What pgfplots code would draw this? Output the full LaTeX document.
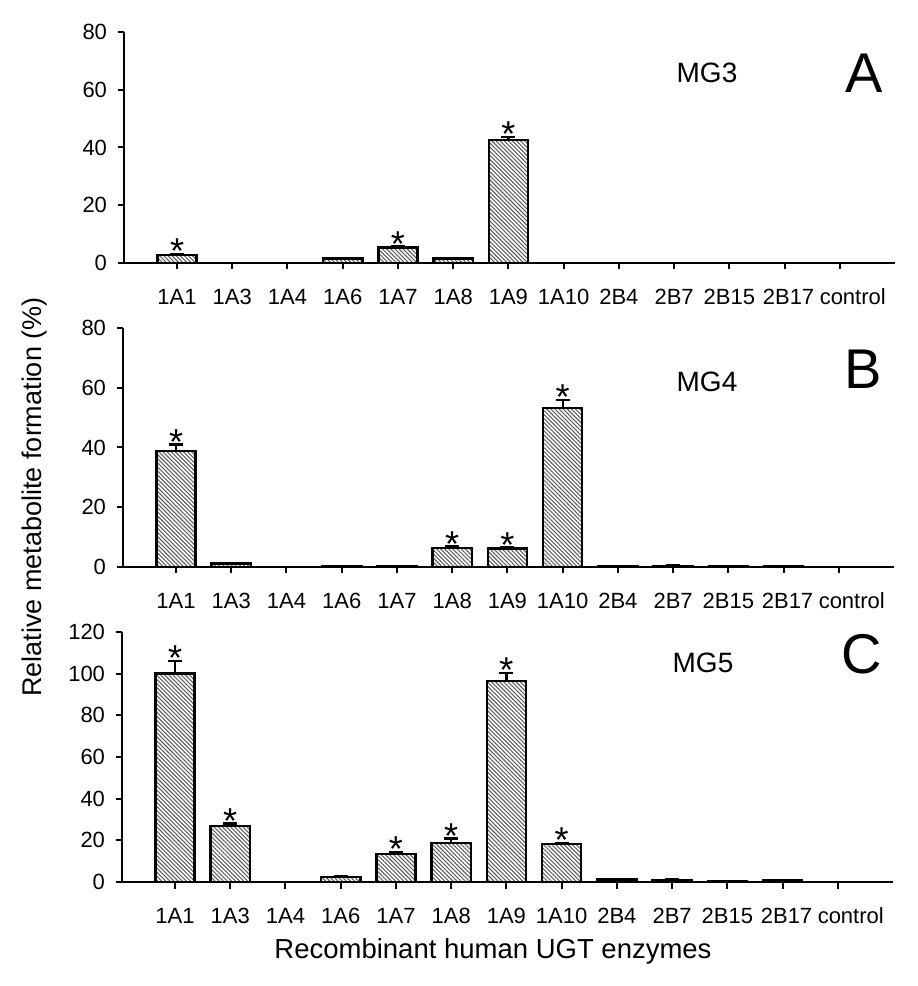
\documentclass[border=0pt]{standalone}
\usepackage{fontspec}
\setmainfont{Liberation Sans}
\usepackage{pgfplots}
\usepackage{pgfplotstable}
\pgfplotsset{compat=1.18}
\usetikzlibrary{patterns.meta}

% panel A (MG3)
\pgfplotstableread{
x val err
0 2.8 0.4
3 1.5 0.2
4 5.3 0.4
5 1.5 0.2
6 42.5 1.2
}\dataA
% panel B (MG4)
\pgfplotstableread{
x val err
0 38.8 2.2
1 1.2 0.2
3 0.3 0.1
4 0.3 0.1
5 6.3 0.6
6 6.2 0.4
7 53.2 2.8
8 0.2 0.1
9 0.4 0.1
10 0.3 0.1
11 0.3 0.1
}\dataB
% panel C (MG5)
\pgfplotstableread{
x val err
0 100.0 6.0
1 26.9 1.2
3 2.3 0.3
4 13.4 1.0
5 18.7 2.2
6 96.5 3.8
7 18.3 0.6
8 1.2 0.3
9 0.9 0.3
10 0.4 0.2
11 0.8 0.3
}\dataC

\tikzset{sig/.style={anchor=south, inner sep=0pt, yshift=-10bp, font=\fontsize{36bp}{40bp}\selectfont}}

\pgfplotsset{
  panel/.style={
    scale only axis, width=771bp,
    xmin=-0.96, xmax=13.0, ymin=0,
    axis x line*=bottom, axis y line*=left,
    axis line style={line width=2.6bp, black},
    xtick={0,...,12},
    xticklabels={1A1,1A3,1A4,1A6,1A7,1A8,1A9,1A10,2B4,2B7,2B15,\hspace*{8bp}2B17,\hspace*{26bp}control},
    tick align=outside, major tick length=6.5bp,
    tick style={line width=2bp, black},
    tick label style={font=\fontsize{22bp}{24bp}\selectfont},
    xticklabel style={anchor=base, yshift=-35bp},
    xticklabel shift=0bp, yticklabel shift=7bp,
    /pgf/number format/assume math mode=true,
    ybar, bar width=0.71,
    clip=false,
  },
  hatchbar/.style={
    draw=black, line width=2.4bp,
    pattern={Lines[angle=-45,distance=2.9bp,line width=1.1bp]},
    pattern color=black!62,
    error bars/.cd, y dir=plus, y explicit,
    error bar style={line width=2.2bp, black, solid},
    error mark options={rotate=90, mark size=7bp, line width=2.2bp, black, solid},
  },
}

\begin{document}
\begin{tikzpicture}
\useasboundingbox (0,0) rectangle (918bp,986bp);

% ---- Panel A ----
\begin{axis}[panel, at={(124bp,723bp)}, anchor=south west, height=231bp,
  ymax=80, ytick={0,20,...,80}]
  \addplot[hatchbar] table[x=x, y=val, y error=err] {\dataA};
  \node[sig] at (axis cs:0,3.2) {*};
  \node[sig] at (axis cs:4,5.7) {*};
  \node[sig] at (axis cs:6,43.7) {*};
\end{axis}

% ---- Panel B ----
\begin{axis}[panel, at={(123bp,419bp)}, anchor=south west, height=239bp,
  ymax=80, ytick={0,20,...,80}]
  \addplot[hatchbar] table[x=x, y=val, y error=err] {\dataB};
  \node[sig] at (axis cs:0,41.0) {*};
  \node[sig] at (axis cs:5,6.9) {*};
  \node[sig] at (axis cs:6,6.6) {*};
  \node[sig] at (axis cs:7,56.0) {*};
\end{axis}

% ---- Panel C ----
\begin{axis}[panel, at={(122bp,104bp)}, anchor=south west, height=250bp,
  ymax=120, ytick={0,20,...,120}]
  \addplot[hatchbar] table[x=x, y=val, y error=err] {\dataC};
  \node[sig] at (axis cs:0,106.0) {*};
  \node[sig] at (axis cs:1,28.1) {*};
  \node[sig] at (axis cs:4,14.4) {*};
  \node[sig] at (axis cs:5,20.9) {*};
  \node[sig] at (axis cs:6,100.3) {*};
  \node[sig] at (axis cs:7,18.9) {*};
\end{axis}

% panel annotations
\node[anchor=base, font=\fontsize{28bp}{32bp}\selectfont] at (707bp,903bp) {MG3};
\node[anchor=base, font=\fontsize{28bp}{32bp}\selectfont] at (707bp,594bp) {MG4};
\node[anchor=base, font=\fontsize{28bp}{32bp}\selectfont] at (703bp,313bp) {MG5};
\node[anchor=base, font=\fontsize{56bp}{60bp}\selectfont] at (864bp,893bp) {A};
\node[anchor=base, font=\fontsize{56bp}{60bp}\selectfont] at (863bp,597bp) {B};
\node[anchor=base, font=\fontsize{56bp}{60bp}\selectfont] at (862bp,312bp) {C};

% axis titles
\node[rotate=90, font=\fontsize{27bp}{30bp}\selectfont] at (35bp,489bp) {Relative metabolite formation (\%)};
\node[anchor=base, font=\fontsize{27.5bp}{30bp}\selectfont] at (493bp,28bp) {Recombinant human UGT enzymes};
\end{tikzpicture}
\end{document}
